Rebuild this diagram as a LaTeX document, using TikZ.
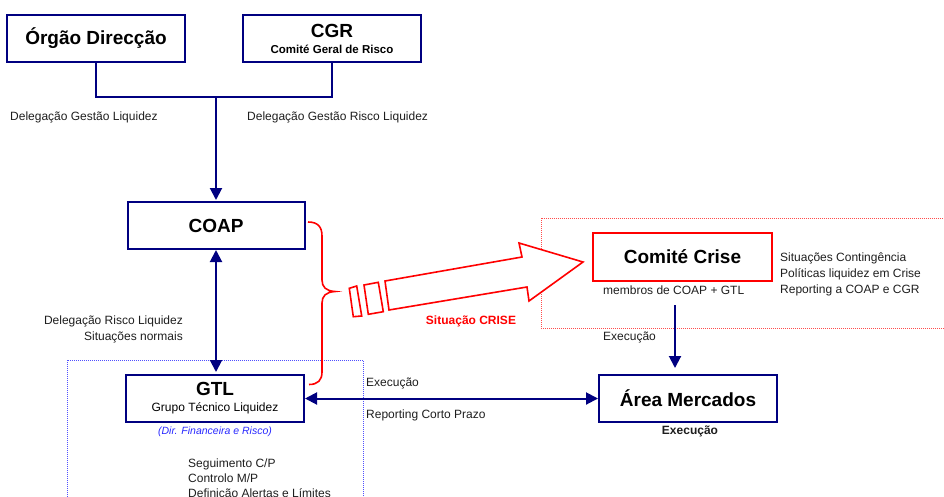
\documentclass[tikz,border=0pt]{standalone}
\usepackage{fontspec}
\setmainfont{Liberation Sans}
\usetikzlibrary{arrows.meta}
\definecolor{navy}{RGB}{0,0,128}
\definecolor{dotblue}{RGB}{80,80,255}
\definecolor{itblue}{RGB}{40,40,255}
\definecolor{crisered}{RGB}{255,0,0}
\definecolor{txt}{RGB}{30,30,30}
\begin{document}
\begin{tikzpicture}[x=1pt,y=-1pt,
  box/.style={draw=navy,line width=2pt,minimum width=178pt,minimum height=47pt,inner sep=0pt,align=center,fill=white},
  redbox/.style={draw=crisered,line width=2pt,minimum width=179pt,minimum height=48pt,inner sep=0pt,align=center,fill=white},
  title/.style={font=\fontsize{19}{21}\selectfont\bfseries},
  lbl/.style={font=\fontsize{12}{16}\selectfont,text=txt,inner sep=0pt},
  navyline/.style={draw=navy,line width=2pt},
  navyarrow/.style={navyline,-{Triangle[length=12pt,width=12pt]}},
  navydbl/.style={navyline,{Triangle[length=12pt,width=12pt]}-{Triangle[length=12pt,width=12pt]}},
  dotframe/.style={line width=1pt,dash pattern=on 1pt off 1pt}
]
\useasboundingbox (0,0) rectangle (944,496);
\clip (0,0) rectangle (944,496);

% dotted frames
\draw[dotframe,draw=crisered!70] (541,218) rectangle (960,328);
\draw[dotframe,draw=dotblue] (67,360) rectangle (363,510);

% boxes
\node[box,title] (org) at (96,38.5) {Órgão Direcção};
\node[box] (cgr) at (332,38.5) {{\fontsize{19}{21}\selectfont\bfseries CGR}\\[4pt]{\fontsize{11.5}{13}\selectfont\bfseries Comité Geral de Risco}};
\node[box,title,minimum width=177pt] (coap) at (216,225.5) {COAP};
\node[box] (gtl) at (215,398.5) {{\fontsize{19}{21}\selectfont\bfseries GTL}\\[4pt]{\fontsize{12}{14}\selectfont Grupo Técnico Liquidez}};
\node[redbox,title] (crise) at (682.5,257) {Comité Crise};
\node[box,title] (area) at (688,398.5) {Área Mercados};

% connectors
\coordinate (jn) at (216,97);
\draw[navyline] (org.south) |- (jn) -| (cgr.south);
\draw[navyarrow,shorten >=1pt] (jn) -- (coap.north);
\draw[navydbl,shorten <=0pt,shorten >=2pt] (coap.south) -- (coap.south |- gtl.north);
\draw[navydbl] (gtl.east) -- (area.west);
\coordinate (cc0) at (675,305);
\draw[navyarrow,shorten >=6pt] (cc0) -- (cc0 |- area.north);

% red brace
\draw[crisered,line width=1.6pt]
  (308,222) .. controls (318,222) and (322,227) .. (322,236)
  -- (322,280) .. controls (322,287) and (326,291) .. (335,291.5)
  .. controls (326,292) and (322,296) .. (322,303)
  -- (322,372) .. controls (322,380) and (318,384.5) .. (309,384.5);

% crisis arrow
\draw[crisered,line width=1.6pt,fill=white,line join=miter]
  (385,281) -- (522,257) -- (519,243) -- (583,262) -- (529,301) -- (527,287) -- (389,310) -- cycle;
\draw[crisered,line width=1.6pt,fill=white]
  (364,285) -- (378.3,282.3) -- (383.3,311.7) -- (368.3,314.3) -- cycle;
\draw[crisered,line width=1.6pt,fill=white]
  (349.3,288.3) -- (356.7,286) -- (361.7,316) -- (353.3,316.7) -- cycle;

% labels
\node[lbl,anchor=west] (l1) at (10,117) {Delegação Gestão Liquidez};
\node[lbl,anchor=west] (l2) at (247,117) {Delegação Gestão Risco Liquidez};
\node[lbl,anchor=east,align=right] (l3) at (183,329) {Delegação Risco Liquidez\\Situações normais};
\node[font=\fontsize{12}{14}\selectfont\bfseries,text=crisered,inner sep=0pt] (l4) at (471,321) {Situação CRISE};
\node[lbl,anchor=west] (l5) at (603,290) {membros de COAP + GTL};
\node[lbl,anchor=west,align=left] (l6) at (780,274) {Situações Contingência\\Políticas liquidez em Crise\\Reporting a COAP e CGR};
\node[lbl,anchor=west] (l7) at (603,337) {Execução};
\node[lbl,anchor=west] (l8) at (366,383) {Execução};
\node[lbl,anchor=west] (l9) at (366,415) {Reporting Corto Prazo};
\node[font=\fontsize{12}{14}\selectfont\bfseries,text=txt,inner sep=0pt] (l10) at (690,431) {Execução};
\node[font=\fontsize{10.5}{12}\selectfont\itshape,text=itblue,inner sep=0pt] (l11) at (215,432) {(Dir. Financeira e Risco)};
\node[lbl,anchor=north west,align=left,font=\fontsize{12}{15}\selectfont] (l12) at (188,459) {Seguimento C/P\\Controlo M/P\\Definição Alertas e Límites};
\end{tikzpicture}
\end{document}
